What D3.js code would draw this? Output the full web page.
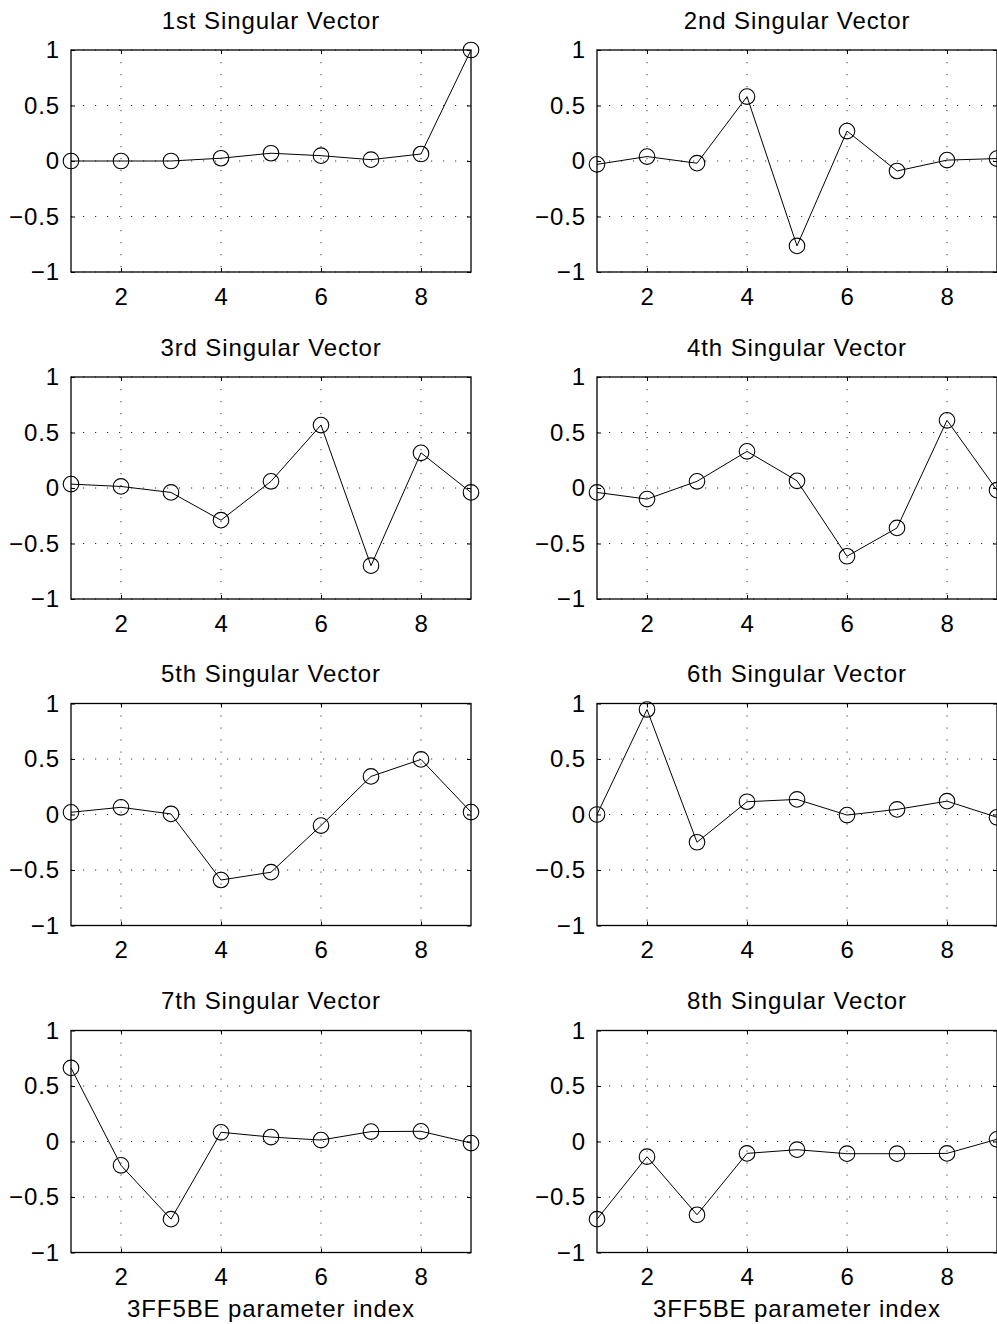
<!DOCTYPE html>
<meta charset="utf-8">

<style> /* set the CSS */
body { margin: 0; background: #fff; }
svg { display: block; }
text { font-family: "Liberation Sans", Arial, Helvetica, sans-serif; font-size: 24px; letter-spacing: 0.9px; fill: #000; }
.tick line { stroke: #000; stroke-width: 1; }
.domain { display: none; }
.grid { stroke: #333; stroke-width: 1; stroke-dasharray: 1.2,10.8; }
.box { fill: none; stroke: #000; stroke-width: 1.3; }
.vline { fill: none; stroke: #000; stroke-width: 1; }
.dot { fill: none; stroke: #000; stroke-width: 1.1; }
</style>
<body>

<!-- load the d3.js library -->
<script src="https://cdn.jsdelivr.net/npm/d3@7"></script>

<script>
// parameter index and the eight singular vectors
var paramIndex = [1, 2, 3, 4, 5, 6, 7, 8, 9];
var vec1 = [0.00, 0.00, 0.00, 0.025, 0.07, 0.048, 0.012, 0.063, 1.00];
var vec2 = [-0.03, 0.04, -0.02, 0.58, -0.765, 0.27, -0.09, 0.008, 0.022];
var vec3 = [0.035, 0.014, -0.04, -0.29, 0.06, 0.567, -0.70, 0.317, -0.04];
var vec4 = [-0.04, -0.10, 0.06, 0.33, 0.065, -0.615, -0.36, 0.61, -0.02];
var vec5 = [0.02, 0.065, 0.005, -0.59, -0.52, -0.10, 0.343, 0.496, 0.022];
var vec6 = [0.00, 0.946, -0.25, 0.115, 0.136, -0.005, 0.046, 0.12, -0.025];
var vec7 = [0.663, -0.215, -0.70, 0.083, 0.04, 0.013, 0.089, 0.092, -0.014];
var vec8 = [-0.70, -0.137, -0.66, -0.107, -0.074, -0.11, -0.11, -0.107, 0.02];

var titles = ["1st Singular Vector", "2nd Singular Vector", "3rd Singular Vector", "4th Singular Vector",
              "5th Singular Vector", "6th Singular Vector", "7th Singular Vector", "8th Singular Vector"];
var xTicks = [2, 4, 6, 8];
var yTicks = [-1, -0.5, 0, 0.5, 1];
var xLabel = "3FF5BE parameter index";

var vectors = [vec1, vec2, vec3, vec4, vec5, vec6, vec7, vec8];

// panel layout
var W = 997, H = 1324;
var colLeft = [71, 597],
    rowTop = [50, 377, 703.5, 1030.5],
    pw = 400, ph = 222;

var svg = d3.select("body").append("svg")
    .attr("width", W)
    .attr("height", H);

var x = d3.scaleLinear().domain([1, 9]).range([0, pw]);
var y = d3.scaleLinear().domain([-1, 1]).range([ph, 0]);

// minus sign like matlab
var fmtY = function(d) { return (d < 0 ? "\u2212" : "") + Math.abs(d); };

var line = d3.line()
    .x(function(d, i) { return x(paramIndex[i]); })
    .y(function(d) { return y(d); });

vectors.forEach(function(vals, k) {
  var col = k % 2, row = Math.floor(k / 2);
  var g = svg.append("g")
      .attr("transform", "translate(" + colLeft[col] + "," + rowTop[row] + ")");

  // dotted grid
  g.selectAll(".gx").data(xTicks).enter().append("line")
      .attr("class", "grid")
      .attr("x1", function(d) { return x(d); }).attr("x2", function(d) { return x(d); })
      .attr("y1", 0).attr("y2", ph);
  g.selectAll(".gy").data(yTicks).enter().append("line")
      .attr("class", "grid")
      .attr("x1", 0).attr("x2", pw)
      .attr("y1", function(d) { return y(d); }).attr("y2", function(d) { return y(d); });

  // axes, ticks pointing inward
  g.append("g")
      .attr("transform", "translate(0," + ph + ")")
      .call(d3.axisBottom(x).tickValues(xTicks).tickSize(-4).tickPadding(15.5));
  g.append("g")
      .call(d3.axisTop(x).tickValues(xTicks).tickSize(-4).tickFormat(""));
  g.append("g")
      .call(d3.axisLeft(y).tickValues(yTicks).tickSize(-4).tickPadding(11).tickFormat(fmtY));
  g.append("g")
      .attr("transform", "translate(" + pw + ",0)")
      .call(d3.axisRight(y).tickValues(yTicks).tickSize(-4).tickFormat(""));
  g.selectAll(".tick text").attr("font-size", null).attr("font-family", null);

  g.append("rect")
      .attr("class", "box")
      .attr("width", pw)
      .attr("height", ph);

  // the vector
  g.append("path")
      .datum(vals)
      .attr("class", "vline")
      .attr("d", line);
  g.selectAll(".dot").data(vals).enter().append("circle")
      .attr("class", "dot")
      .attr("cx", function(d, i) { return x(paramIndex[i]); })
      .attr("cy", function(d) { return y(d); })
      .attr("r", 7.8);

  // title
  g.append("text")
      .attr("x", pw / 2)
      .attr("y", -21.5)
      .style("text-anchor", "middle")
      .text(titles[k]);

  // x label on bottom row only
  if (row == 3) {
    g.append("text")
        .attr("x", pw / 2)
        .attr("y", ph + 64.5)
        .style("text-anchor", "middle")
        .text(xLabel);
  }
});
</script>
</body>
